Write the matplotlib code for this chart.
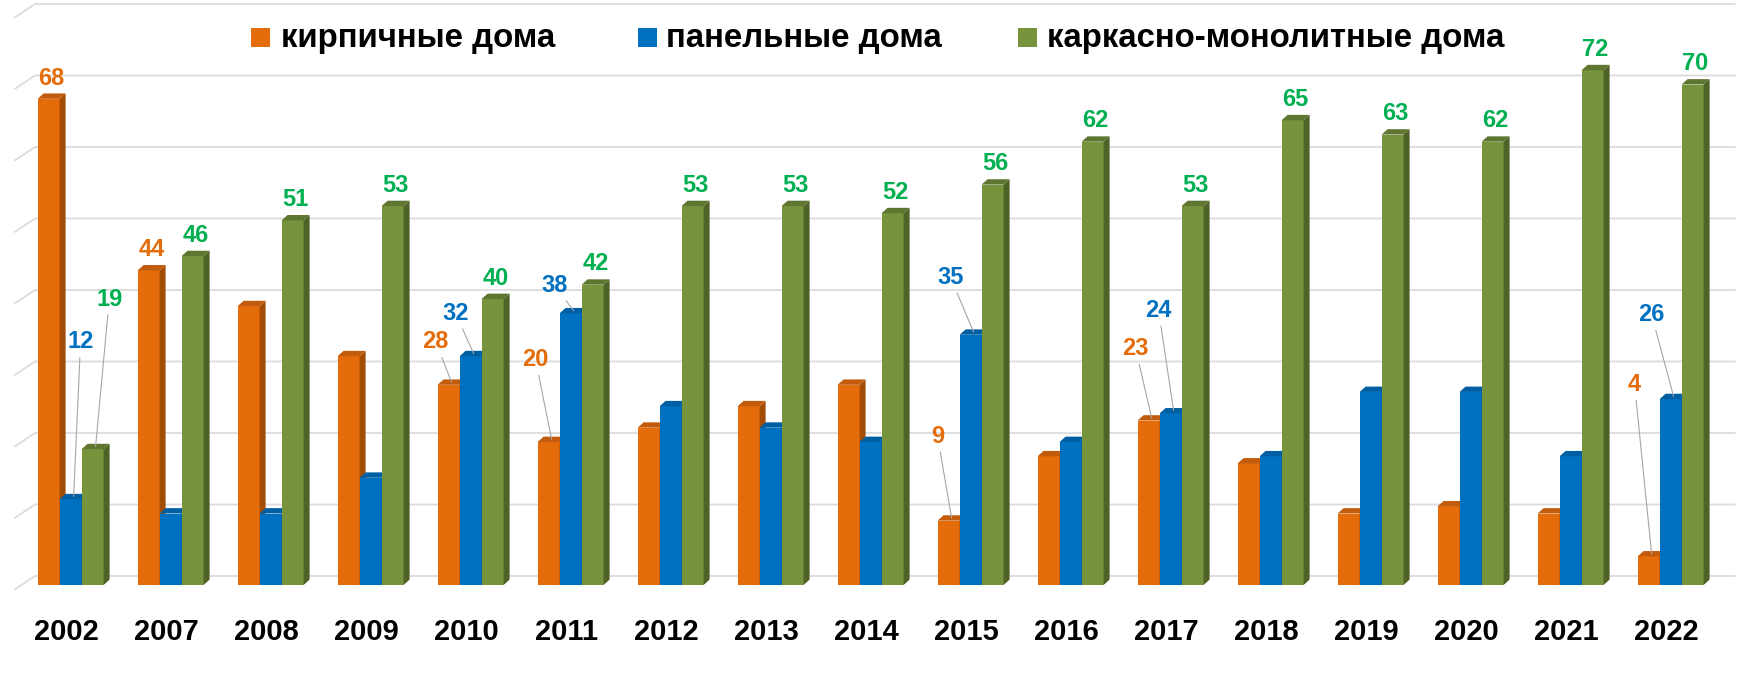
import numpy as np
import matplotlib.pyplot as plt
from matplotlib.patches import Polygon, Rectangle

plt.rcParams['font.family'] = ['Liberation Sans', 'DejaVu Sans']

years = ['2002', '2007', '2008', '2009', '2010', '2011', '2012', '2013', '2014',
         '2015', '2016', '2017', '2018', '2019', '2020', '2021', '2022']
brick = [68, 44, 39, 32, 28, 20, 22, 25, 28, 9, 18, 23, 17, 10, 11, 10, 4]
panel = [12, 10, 10, 15, 32, 38, 25, 22, 20, 35, 20, 24, 18, 27, 27, 18, 26]
frame = [19, 46, 51, 53, 40, 42, 53, 53, 52, 56, 62, 53, 65, 63, 62, 72, 70]
names = ['кирпичные дома', 'панельные дома', 'каркасно-монолитные дома']

# which bars carry a value label
brick_lab = ['2002', '2007', '2010', '2011', '2015', '2017', '2022']
panel_lab = ['2002', '2010', '2011', '2015', '2017', '2022']
frame_lab = years

# label placement (dx, dy from bar top) for labels with leader lines
leader = {
    (1, '2002'): (0.10, 22), (2, '2002'): (0.167, 21),
    (0, '2010'): (-0.13, 6), (1, '2010'): (-0.15, 6),
    (0, '2011'): (-0.13, 11.5), (1, '2011'): (-0.16, 3.9),
    (0, '2015'): (-0.11, 11.8), (1, '2015'): (-0.2, 8),
    (0, '2017'): (-0.13, 10.1), (1, '2017'): (-0.12, 14.4),
    (0, '2022'): (-0.14, 24), (1, '2022'): (-0.19, 11.8),
}

front = ['#E46C0A', '#0070C0', '#77933C']
side = ['#A34C06', '#00528C', '#4F6228']
top = ['#C25B0B', '#005FA3', '#5E7630']
txt_col = ['#E46C0A', '#0070C0', '#00B050']

W, H = 1741, 684
fig = plt.figure(figsize=(W / 100, H / 100), dpi=100)
base = 585
ppu = 7.15
ax = fig.add_axes([0, (H - base) / H, 1, base / H])
ax.set_xlim(-0.666, (W - 66.6) / 100)
ax.set_ylim(0, base / ppu)
for s in ax.spines.values():
    s.set_visible(False)
ax.set_yticks([])

# gridlines on the back wall with the little floor diagonal at the left
for k in range(9):
    y = 10 * k + 1.26
    ax.plot([-0.516, -0.316, 16.68], [10 * k - 0.6, y, y], color='#DCDCDC',
            lw=1.3, clip_on=False, zorder=0)

x = np.arange(len(years))
bw = 0.22
DX, DY = 0.06, 0.75
series = [brick, panel, frame]
labeled = [brick_lab, panel_lab, frame_lab]

for s, vals in enumerate(series):
    pos = x + 0.04 + (s - 1) * bw
    bars = ax.bar(pos, vals, width=bw, color=front[s], zorder=2 + s)
    for b, v, yr in zip(bars, vals, years):
        x0, w = b.get_x(), b.get_width()
        ax.add_patch(Polygon([(x0 + w, 0), (x0 + w + DX, DY), (x0 + w + DX, v + DY), (x0 + w, v)],
                             closed=True, facecolor=side[s], edgecolor='none', zorder=2 + s))
        ax.add_patch(Polygon([(x0, v), (x0 + w, v), (x0 + w + DX, v + DY), (x0 + DX, v + DY)],
                             closed=True, facecolor=top[s], edgecolor='none', zorder=2 + s))
        if yr not in labeled[s]:
            continue
        cx = x0 + w / 2
        if (s, yr) in leader:
            dx, dy = leader[(s, yr)]
            ax.annotate(str(v), xy=(cx + DX / 2, v + DY / 2), xytext=(cx + dx, v + dy),
                        ha='center', va='center', fontsize=17, fontweight='bold',
                        color=txt_col[s], zorder=10,
                        arrowprops=dict(arrowstyle='-', color='#A6A6A6', lw=0.8,
                                        shrinkA=1, shrinkB=0))
        else:
            ax.text(cx + 0.03, v + 2.9, str(v), ha='center', va='center', fontsize=17,
                    fontweight='bold', color=txt_col[s], zorder=10)

ax.set_xticks(x, years)
ax.tick_params(axis='x', length=0, pad=24, labelsize=21)
for t in ax.get_xticklabels():
    t.set_fontweight('bold')

# legend along the top
leg_sq = [251, 638, 1018]
leg_tx = [281, 666, 1047]
for s in range(3):
    fig.patches.append(Rectangle((leg_sq[s] / W, 1 - 47 / H), 19 / W, 19 / H,
                                 transform=fig.transFigure, facecolor=front[s],
                                 edgecolor='none'))
    fig.text(leg_tx[s] / W, 1 - 39 / H, names[s], ha='left', va='center',
             fontsize=23.8, fontweight='bold', color='black')

fig.savefig('out.png', dpi=100)
